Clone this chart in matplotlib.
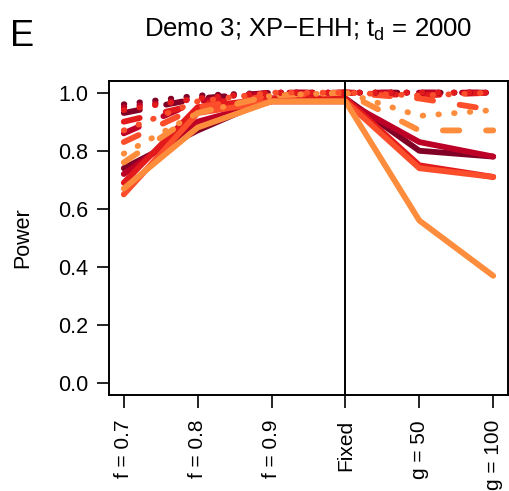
import matplotlib
matplotlib.use("Agg")
import matplotlib.pyplot as plt
import numpy as np

plt.rcParams['font.family'] = ['Liberation Sans', 'DejaVu Sans']
plt.rcParams['mathtext.fontset'] = 'custom'
plt.rcParams['mathtext.rm'] = 'Liberation Sans'

# scenarios on the x axis
scenarios = ['f = 0.7', 'f = 0.8', 'f = 0.9', 'Fixed', 'g = 50', 'g = 100']

# one colour per selection setting, dark to light
colors = ['#800026', '#BD0026', '#E31A1C', '#FC4E2A', '#FD8D3C']

# power, solid lines
power_solid = [
    [0.74, 0.87, 0.98, 0.98, 0.80, 0.78],
    [0.72, 0.90, 0.97, 0.97, 0.83, 0.78],
    [0.69, 0.95, 0.98, 0.98, 0.75, 0.71],
    [0.65, 0.93, 0.97, 0.97, 0.74, 0.71],
    [0.67, 0.88, 0.97, 0.97, 0.56, 0.37],
]
# power, dashed lines
power_dashed = [
    [0.93, 0.98, 1.00, 1.00, 1.00, 1.00],
    [0.86, 0.97, 1.00, 1.00, 1.00, 1.00],
    [0.90, 0.96, 0.99, 1.00, 0.99, 1.00],
    [0.83, 0.95, 0.99, 1.00, 0.98, 0.94],
    [0.76, 0.93, 0.99, 1.00, 0.87, 0.87],
]
# power, dotted lines
power_dotted = [
    [0.96, 0.99, 1.00, 1.00, 1.00, 1.00],
    [0.95, 0.98, 1.00, 1.00, 1.00, 1.00],
    [0.94, 0.98, 1.00, 1.00, 1.00, 1.00],
    [0.87, 0.97, 1.00, 1.00, 0.99, 1.00],
    [0.79, 0.93, 0.99, 1.00, 0.92, 0.94],
]

fig = plt.figure(figsize=(5.09, 4.91), dpi=100)
ax = fig.add_axes([109/509, 1-395/491, 399/509, 314/491])

x = np.arange(len(scenarios))
lw = 4.2
for vals, c in zip(power_solid, colors):
    ax.plot(x, vals, color=c, lw=lw, solid_capstyle='round', solid_joinstyle='round')
for vals, c in zip(power_dashed, colors):
    ax.plot(x, vals, color=c, lw=lw, linestyle=(0, (2.8, 4.6)), dash_capstyle='round')
for vals, c in zip(power_dotted, colors):
    ax.plot(x, vals, color=c, lw=lw, linestyle=(0, (0.1, 2.6)), dash_capstyle='round')

ax.axvline(3, color='black', lw=1.4)

ax.set_xlim(-0.2, 5.2)
ax.set_ylim(-0.04, 1.04)
ax.set_yticks(np.arange(0, 1.01, 0.2))
ax.set_yticklabels(['%.1f' % v for v in np.arange(0, 1.01, 0.2)])
ax.set_xticks(x)
ax.set_xticklabels(scenarios, rotation=90)
ax.tick_params(axis='both', direction='out', length=9, width=1.2, labelsize=15.5, pad=6)
ax.tick_params(axis='x', pad=9, labelsize=15)
for s in ax.spines.values():
    s.set_linewidth(1.4)

ax.set_ylabel('Power', fontsize=15.5, labelpad=18)
ax.set_title(r'Demo 3; XP−EHH; $\mathregular{t_d}$ = 2000', fontsize=18.5, pad=32)
fig.text(10/509, 1-37/491, 'E', fontsize=26, va='center', ha='left')

fig.savefig('out.png', dpi=100)
